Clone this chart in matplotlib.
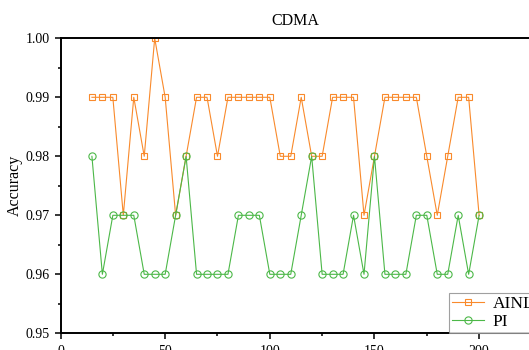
import matplotlib.pyplot as plt
from matplotlib.ticker import MultipleLocator

# data
x_vals = list(range(15, 205, 5))
ainl = [0.99, 0.99, 0.99, 0.97, 0.99, 0.98, 1.00, 0.99, 0.97, 0.98,
        0.99, 0.99, 0.98, 0.99, 0.99, 0.99, 0.99, 0.99, 0.98, 0.98,
        0.99, 0.98, 0.98, 0.99, 0.99, 0.99, 0.97, 0.98, 0.99, 0.99,
        0.99, 0.99, 0.98, 0.97, 0.98, 0.99, 0.99, 0.97]
pi = [0.98, 0.96, 0.97, 0.97, 0.97, 0.96, 0.96, 0.96, 0.97, 0.98,
      0.96, 0.96, 0.96, 0.96, 0.97, 0.97, 0.97, 0.96, 0.96, 0.96,
      0.97, 0.98, 0.96, 0.96, 0.96, 0.97, 0.96, 0.98, 0.96, 0.96,
      0.96, 0.97, 0.97, 0.96, 0.96, 0.97, 0.96, 0.97]

plt.rcParams['font.family'] = ['Liberation Serif', 'DejaVu Serif']

fig = plt.figure(figsize=(5.29, 3.5), dpi=100)
# axes run past the right edge, like the cropped original
ax = fig.add_axes([0.1144, 0.0477, 0.910, 0.8429])

ax.plot(x_vals, ainl, color='#f98a2c', marker='s', markersize=4.3,
        markerfacecolor='none', markeredgewidth=0.8, linewidth=0.8, label='AINL')
ax.plot(x_vals, pi, color='#4cb848', marker='o', markersize=5.2,
        markerfacecolor='none', markeredgewidth=0.8, linewidth=0.8, label='PI')

ax.set_xlim(0, 230)
ax.set_ylim(0.95, 1.00)
ax.xaxis.set_major_locator(MultipleLocator(50))
ax.xaxis.set_minor_locator(MultipleLocator(25))
ax.yaxis.set_major_locator(MultipleLocator(0.01))
ax.yaxis.set_minor_locator(MultipleLocator(0.005))
ax.yaxis.set_major_formatter(plt.FormatStrFormatter('%.2f'))
ax.tick_params(which='both', direction='out', labelsize=10, width=1.1)
ax.tick_params(which='major', length=4)
ax.tick_params(which='minor', length=2.2)
ax.tick_params(axis='x', pad=4.5)
ax.tick_params(top=False, right=False)

for side in ['left', 'bottom', 'top', 'right']:
    ax.spines[side].set_linewidth(1.4)

ax.set_ylabel('Accuracy', fontsize=11.5, va='center')
ax.yaxis.set_label_coords(-0.0946, 0.5)
fig.text(0.558, 0.941, 'CDMA', ha='center', va='center', fontsize=11.5)

leg = fig.legend(loc='lower left', bbox_to_anchor=(0.8488, 0.0477), fontsize=12.5,
                 frameon=True, fancybox=False, edgecolor='#888888',
                 handlelength=1.85, handletextpad=0.5, borderpad=0.18,
                 labelspacing=0.1, borderaxespad=0)
leg.get_frame().set_linewidth(0.8)

fig.savefig('out.png', dpi=100)
